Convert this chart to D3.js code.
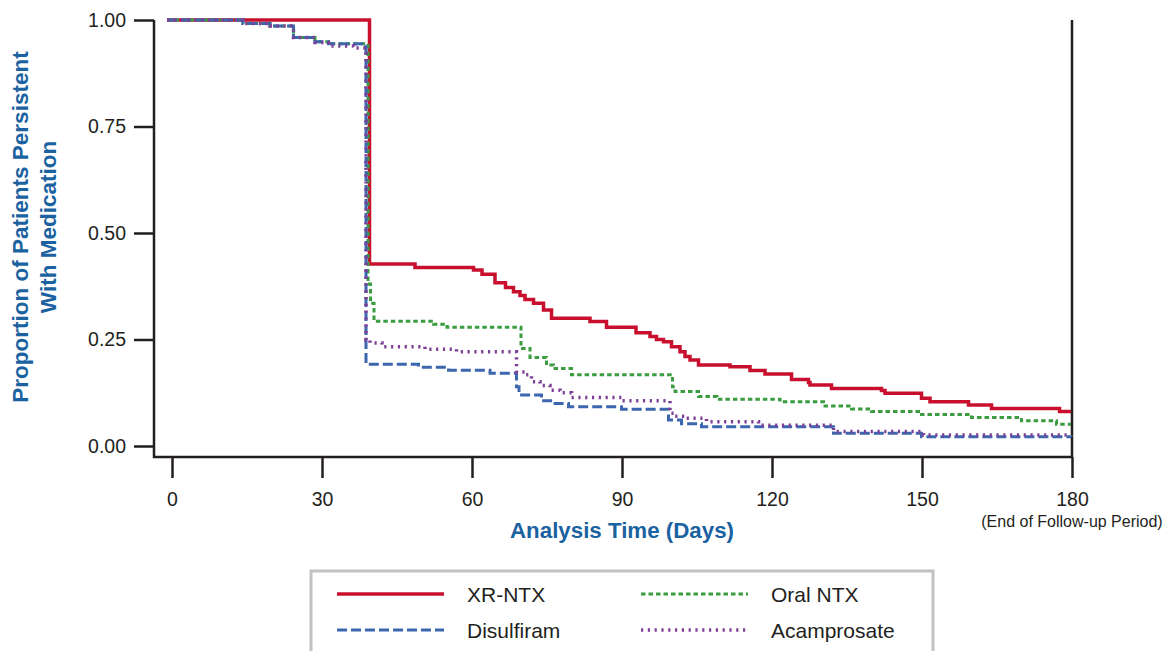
<!DOCTYPE html>
<html>
<head>
<meta charset="utf-8">
<script src="https://cdn.jsdelivr.net/npm/d3@7"></script>
<style>
  body { margin: 0; background: #fff; }
  svg { display: block; font-family: "Liberation Sans", Arial, sans-serif; }
</style>
</head>
<body>
<div id="chart"></div>
<script>
// Kaplan-Meier style persistence curves, [day, proportion] step points
const xrNtx = [
    [-1, 1.000], [39.5, 0.427], [48.6, 0.419], [60.3, 0.413], [62.0, 0.403], [64.6, 0.383],
    [66.7, 0.372], [68.3, 0.362], [69.6, 0.353], [70.6, 0.344], [72.3, 0.335], [74.3, 0.319],
    [75.9, 0.300], [83.6, 0.292], [86.9, 0.279], [92.8, 0.266], [95.6, 0.257], [96.9, 0.250],
    [98.3, 0.245], [99.9, 0.233], [101.6, 0.221], [102.6, 0.210], [103.6, 0.202], [105.3, 0.190],
    [111.6, 0.186], [115.6, 0.177], [118.6, 0.169], [123.9, 0.156], [127.3, 0.149], [127.6, 0.143],
    [131.9, 0.135], [141.9, 0.130], [142.6, 0.124], [149.9, 0.112], [151.6, 0.104], [159.3, 0.096],
    [163.9, 0.088], [177.5, 0.081], [179.8, 0.081]
];
const oralNtx = [
    [-1, 1.000], [14.2, 0.992], [19.6, 0.986], [24.3, 0.959], [28.6, 0.949], [31.3, 0.944],
    [39.2, 0.380], [39.7, 0.335], [40.4, 0.293], [52.3, 0.286], [55.0, 0.279], [69.8, 0.229],
    [71.6, 0.208], [74.9, 0.190], [76.3, 0.182], [79.9, 0.167], [100.1, 0.139], [100.6, 0.128],
    [105.3, 0.116], [109.0, 0.110], [121.6, 0.104], [130.3, 0.094], [135.9, 0.087], [139.9, 0.081],
    [149.9, 0.074], [159.9, 0.067], [169.9, 0.059], [176.9, 0.051], [179.8, 0.051]
];
const disulfiram = [
    [-1, 1.000], [14.2, 0.992], [19.6, 0.986], [24.3, 0.959], [28.6, 0.949], [31.3, 0.944],
    [38.3, 0.937], [38.8, 0.192], [49.3, 0.185], [55.3, 0.178], [63.6, 0.171], [68.9, 0.139],
    [69.4, 0.120], [73.9, 0.106], [76.3, 0.100], [79.3, 0.092], [89.9, 0.086], [99.3, 0.061],
    [101.9, 0.052], [105.9, 0.045], [132.3, 0.030], [149.9, 0.022], [179.8, 0.021]
];
const acamprosate = [
    [-1, 1.000], [14.2, 0.992], [19.6, 0.986], [24.3, 0.959], [28.6, 0.947], [31.3, 0.939],
    [36.3, 0.934], [38.8, 0.249], [39.6, 0.242], [42.0, 0.233], [50.6, 0.227], [56.9, 0.221],
    [68.9, 0.174], [70.6, 0.167], [71.9, 0.151], [73.6, 0.142], [75.6, 0.131], [77.6, 0.125],
    [79.9, 0.114], [89.9, 0.106], [99.6, 0.077], [100.6, 0.070], [102.6, 0.065], [106.9, 0.057],
    [117.3, 0.049], [132.3, 0.034], [150.3, 0.026], [179.8, 0.026]
];

const xTicks = [0, 30, 60, 90, 120, 150, 180];
const yTicks = [0, 0.25, 0.5, 0.75, 1];

const seriesNames = ["XR-NTX", "Oral NTX", "Disulfiram", "Acamprosate"];
const seriesData = [xrNtx, oralNtx, disulfiram, acamprosate];
const seriesColors = ["#c8102e", "#3b9c40", "#3c66ae", "#7d3f97"];
const seriesDash = [null, "4.5,3", "10,4", "2.2,4.6"];
const seriesWidth = [3.5, 3, 3, 3.5];

const width = 1169, height = 651;
const svg = d3.select("#chart").append("svg")
    .attr("width", width)
    .attr("height", height);

const xScale = d3.scaleLinear([0, 180], [172, 1072]);
const yScale = d3.scaleLinear([0, 1], [446, 20]);

const axisX = 154, axisY = 457;
const ink = "#231f20";
const titleBlue = "#1b62a0";

// y axis
const yAxis = svg.append("g")
    .attr("transform", `translate(${axisX},0)`)
    .call(d3.axisLeft(yScale).tickValues(yTicks).tickFormat(d3.format(".2f"))
        .tickSize(20).tickPadding(8));
yAxis.select(".domain").remove();
yAxis.selectAll("line").attr("stroke", ink).attr("stroke-width", 2.5);
yAxis.selectAll("text").attr("font-size", 19.5).attr("fill", ink)
    .attr("font-family", "Liberation Sans, Arial, sans-serif");

// x axis
const xAxis = svg.append("g")
    .attr("transform", `translate(0,${axisY})`)
    .call(d3.axisBottom(xScale).tickValues(xTicks).tickSize(21).tickPadding(14));
xAxis.select(".domain").remove();
xAxis.selectAll("line").attr("stroke", ink).attr("stroke-width", 2.5);
xAxis.selectAll("text").attr("font-size", 19.5).attr("fill", ink)
    .attr("font-family", "Liberation Sans, Arial, sans-serif");

// frame lines (left, bottom, right)
svg.append("path")
    .attr("d", `M${axisX},${yScale(1)}V${axisY}H${xScale(180)}`)
    .attr("fill", "none").attr("stroke", ink).attr("stroke-width", 2.5);
svg.append("line")
    .attr("x1", xScale(180)).attr("x2", xScale(180))
    .attr("y1", yScale(1)).attr("y2", axisY)
    .attr("stroke", ink).attr("stroke-width", 2.5);

// curves
const stepLine = d3.line()
    .x(d => xScale(d[0]))
    .y(d => yScale(d[1]))
    .curve(d3.curveStepAfter);

seriesData.forEach((data, i) => {
    svg.append("path")
        .attr("d", stepLine(data))
        .attr("fill", "none")
        .attr("stroke", seriesColors[i])
        .attr("stroke-width", seriesWidth[i])
        .attr("stroke-dasharray", seriesDash[i]);
});

// axis titles
const yTitle = svg.append("text")
    .attr("transform", "translate(0,227) rotate(-90)")
    .attr("text-anchor", "middle")
    .attr("font-weight", "bold")
    .attr("font-size", 22.5)
    .attr("fill", titleBlue);
yTitle.append("tspan").attr("x", 0).attr("y", 28).text("Proportion of Patients Persistent");
yTitle.append("tspan").attr("x", 0).attr("y", 56).text("With Medication");

svg.append("text")
    .attr("x", 622).attr("y", 538)
    .attr("text-anchor", "middle")
    .attr("font-weight", "bold")
    .attr("font-size", 22)
    .attr("textLength", 224)
    .attr("lengthAdjust", "spacingAndGlyphs")
    .attr("fill", titleBlue)
    .text("Analysis Time (Days)");

svg.append("text")
    .attr("x", xScale(180)).attr("y", 527)
    .attr("text-anchor", "middle")
    .attr("font-size", 16)
    .attr("fill", ink)
    .text("(End of Follow-up Period)");

// legend
svg.append("rect")
    .attr("x", 311).attr("y", 571)
    .attr("width", 622).attr("height", 110)
    .attr("fill", "#fff")
    .attr("stroke", "#c2c2c2")
    .attr("stroke-width", 3);

const legendOrder = [0, 1, 2, 3];
legendOrder.forEach((si, k) => {
    const col = k % 2, row = Math.floor(k / 2);
    const lx = 337 + col * 304;
    const ly = 594 + row * 36;
    svg.append("line")
        .attr("x1", lx).attr("x2", lx + 107)
        .attr("y1", ly).attr("y2", ly)
        .attr("stroke", seriesColors[si])
        .attr("stroke-width", seriesWidth[si])
        .attr("stroke-dasharray", seriesDash[si]);
    svg.append("text")
        .attr("x", lx + 130).attr("y", ly + 7.5)
        .attr("font-size", 21)
        .attr("fill", ink)
        .text(seriesNames[si]);
});
</script>
</body>
</html>
